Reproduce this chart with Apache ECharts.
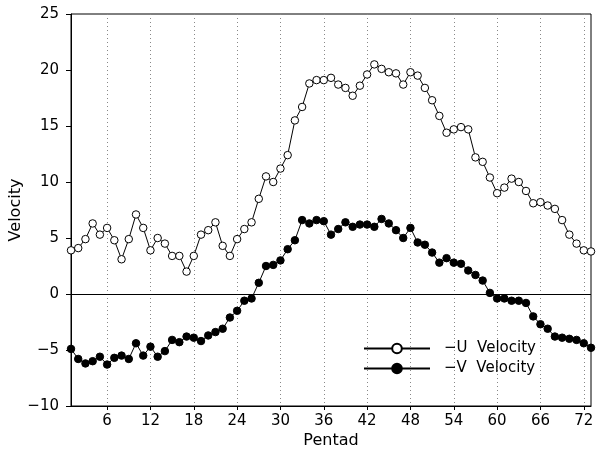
<!DOCTYPE html>
<html>
<head>
<meta charset="utf-8">
<script src="https://cdn.jsdelivr.net/npm/echarts@6/dist/echarts.min.js"></script>
<style>
  html, body { margin: 0; padding: 0; background: #fff; }
  #chart { width: 596px; height: 452px; }
</style>
</head>
<body>
<div id="chart"></div>
<script>
const FONT = 'DejaVu Sans, sans-serif'

// pentad 1..73
const pentads = Array.from({ length: 73 }, (_, i) => i + 1)
const xTicks = [6, 12, 18, 24, 30, 36, 42, 48, 54, 60, 66, 72]

const uVelocity = [
  3.9, 4.1, 4.9, 6.3, 5.3, 5.9, 4.8, 3.1, 4.9, 7.1,
  5.9, 3.9, 5.0, 4.5, 3.4, 3.4, 2.0, 3.4, 5.3, 5.7,
  6.4, 4.3, 3.4, 4.9, 5.8, 6.4, 8.5, 10.5, 10.0, 11.2,
  12.4, 15.5, 16.7, 18.8, 19.1, 19.1, 19.3, 18.7, 18.4, 17.7,
  18.6, 19.6, 20.5, 20.1, 19.8, 19.7, 18.7, 19.8, 19.5, 18.4,
  17.3, 15.9, 14.4, 14.7, 14.9, 14.7, 12.2, 11.8, 10.4, 9.0,
  9.5, 10.3, 10.0, 9.2, 8.1, 8.2, 7.9, 7.6, 6.6, 5.3,
  4.5, 3.9, 3.8,
]

const vVelocity = [
  -4.9, -5.8, -6.2, -6.0, -5.6, -6.3, -5.7, -5.5, -5.8, -4.4,
  -5.5, -4.7, -5.6, -5.1, -4.1, -4.3, -3.8, -3.9, -4.2, -3.7,
  -3.4, -3.1, -2.1, -1.5, -0.6, -0.4, 1.0, 2.5, 2.6, 3.0,
  4.0, 4.8, 6.6, 6.3, 6.6, 6.5, 5.3, 5.8, 6.4, 6.0,
  6.2, 6.2, 6.0, 6.7, 6.3, 5.7, 5.0, 5.9, 4.6, 4.4,
  3.7, 2.8, 3.2, 2.8, 2.7, 2.1, 1.7, 1.2, 0.1, -0.4,
  -0.4, -0.6, -0.6, -0.8, -2.0, -2.7, -3.1, -3.8, -3.9, -4.0,
  -4.1, -4.4, -4.8,
]

const myChart = echarts.init(document.getElementById('chart'))

const options = {
  animation: false,
  backgroundColor: '#fff',
  textStyle: { fontFamily: FONT },
  grid: {
    left: 71, right: 5, top: 14, bottom: 46,
    outerBoundsMode: 'none',
    containLabel: false,
    show: true, borderColor: '#000', borderWidth: 1,
  },
  legend: {
    orient: 'vertical',
    left: 358,
    top: 336,
    itemWidth: 66,
    itemHeight: 12,
    itemGap: 5,
    textStyle: { fontFamily: FONT, fontSize: 15, color: '#000', padding: [0, 0, 0, 9] },
    data: ['−U  Velocity', '−V  Velocity'],
  },
  xAxis: {
    type: 'value',
    min: 1,
    max: 73,
    name: 'Pentad',
    nameLocation: 'middle',
    nameGap: 27,
    nameMoveOverlap: false,
    nameTextStyle: { fontFamily: FONT, fontSize: 16, color: '#000' },
    axisLine: { onZero: false, lineStyle: { color: '#000' } },
    axisTick: { show: true, length: 4, customValues: xTicks, lineStyle: { color: '#000' } },
    axisLabel: { customValues: xTicks, fontFamily: FONT, fontSize: 15, color: '#000', margin: 8 },
    splitLine: { show: true, lineStyle: { color: '#888', type: [1, 3], width: 1 } },
  },
  yAxis: {
    type: 'value',
    min: -10,
    max: 25,
    interval: 5,
    name: 'Velocity',
    nameLocation: 'middle',
    nameGap: 47,
    nameMoveOverlap: false,
    nameTextStyle: { fontFamily: FONT, fontSize: 16, color: '#000' },
    axisLine: { show: true, lineStyle: { color: '#000' } },
    axisTick: { show: true, length: 5, lineStyle: { color: '#000' } },
    axisLabel: {
      fontFamily: FONT, fontSize: 15, color: '#000', margin: 12,
      formatter: (v) => String(v).replace('-', '−'),
    },
    splitLine: { show: false },
  },
  series: [
    {
      name: '−U  Velocity',
      type: 'line',
      data: pentads.map((p, i) => [p, uVelocity[i]]),
      symbol: 'circle',
      symbolSize: 7.5,
      showAllSymbol: true,
      lineStyle: { color: '#000', width: 1 },
      itemStyle: { color: '#fff', borderColor: '#000', borderWidth: 1 },
      z: 3,
      markLine: {
        silent: true,
        symbol: 'none',
        label: { show: false },
        lineStyle: { color: '#000', width: 1, type: 'solid' },
        data: [{ yAxis: 0 }],
      },
    },
    {
      name: '−V  Velocity',
      type: 'line',
      data: pentads.map((p, i) => [p, vVelocity[i]]),
      symbol: 'circle',
      symbolSize: 7.5,
      showAllSymbol: true,
      lineStyle: { color: '#000', width: 1 },
      itemStyle: { color: '#000', borderColor: '#000', borderWidth: 1 },
      z: 3,
    },
  ],
}

myChart.setOption(options)
</script>
</body>
</html>
